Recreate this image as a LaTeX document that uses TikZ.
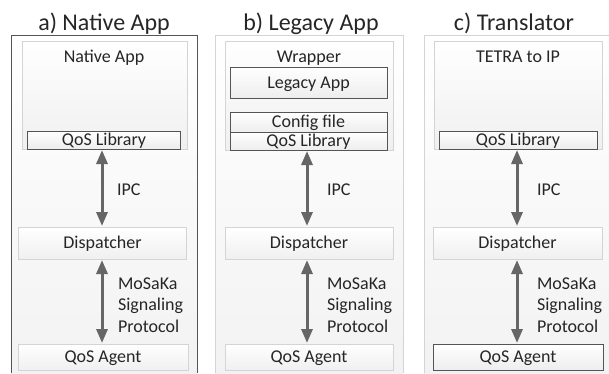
\documentclass[tikz,border=0pt]{standalone}
\usepackage{fontspec}
\setmainfont{Carlito}
\usetikzlibrary{arrows.meta}
\definecolor{txt}{HTML}{262626}
\definecolor{edgelight}{HTML}{D4D4D4}
\definecolor{edgedark}{HTML}{555555}
\definecolor{arrowc}{HTML}{666666}
\tikzset{
  x=1pt,y=-1pt,
  every node/.style={text=txt,font=\fontsize{18}{21}\selectfont,inner sep=0pt,outer sep=0pt},
  softbox/.style={rectangle,draw=edgelight,line width=0.8pt,top color=white,bottom color=black!6,anchor=center,text height=13pt,text depth=2pt},
  hardbox/.style={rectangle,draw=edgedark,line width=0.9pt,top color=white,bottom color=black!7,anchor=center,text height=13pt,text depth=2pt},
  sized/.style 2 args={minimum width=#1pt,minimum height=#2pt},
  paneltitle/.style={font=\fontsize{24}{28}\selectfont,anchor=base},
  boxlabel/.style={text height=13pt,text depth=2pt},
  caption/.style={anchor=west,align=left,font=\fontsize{18}{21.5}\selectfont},
  link/.style={line width=3pt,draw=arrowc,{Triangle[length=14pt,width=11pt]}-{Triangle[length=14pt,width=11pt]},shorten >=1pt,shorten <=1pt},
  panelbg/.style={rectangle,top color=white,bottom color=black!5,anchor=center},
}
\begin{document}
\begin{tikzpicture}
\useasboundingbox (0,0) rectangle (609,373);
% panel a
\node[panelbg,sized={186}{338}] (pa) at (104,204) {};
\draw[edgedark,line width=0.9pt] (pa.south west) -- (pa.north west) -- (pa.north east) -- (pa.south east);
\node[paneltitle] (ta) at (104,30) {a) Native App};
\node[softbox,sized={165}{108}] (appa) at (104.5,95) {};
\node[boxlabel] (appalbl) at (104,57) {Native App};
\node[hardbox,sized={153}{18}] (liba) at (104,140) {QoS Library};
\node[softbox,sized={168}{32}] (dispa) at (102.5,243) {Dispatcher};
\node[softbox,sized={170}{26}] (agenta) at (103,357) {QoS Agent};
\draw[link] (liba.south -| 102,0) -- (dispa.north -| 102,0);
\draw[link] (dispa.south -| 102,0) -- (agenta.north -| 102,0);
\node[caption] (ipca) at (117,190) {IPC};
\node[caption] (sa) at (118,305) {MoSaKa\\Signaling\\Protocol};
% panel b
\node[panelbg,sized={188}{338}] (pb) at (309,204) {};
\draw[edgelight,line width=0.8pt] (pb.south west) -- (pb.north west) -- (pb.north east) -- (pb.south east);
\node[paneltitle] (tb) at (311,30) {b) Legacy App};
\node[softbox,sized={168}{109}] (appb) at (309,95.5) {};
\node[boxlabel] (appblbl) at (309,57) {Wrapper};
\node[hardbox,sized={157}{31}] (legacy) at (308.5,82.5) {Legacy App};
\node[hardbox,sized={157}{20}] (config) at (308.5,122) {Config file};
\node[hardbox,sized={157}{18}] (libb) at (308.5,141) {QoS Library};
\node[softbox,sized={168}{32}] (dispb) at (309,243) {Dispatcher};
\node[softbox,sized={168}{26}] (agentb) at (309,357) {QoS Agent};
\draw[link] (libb.south -| 307,0) -- (dispb.north -| 307,0);
\draw[link] (dispb.south -| 307,0) -- (agentb.north -| 307,0);
\node[caption] (ipcb) at (327,190) {IPC};
\node[caption] (sb) at (327,305) {MoSaKa\\Signaling\\Protocol};
% panel c
\node[panelbg,sized={185}{338}] (pc) at (516.5,204) {};
\draw[edgelight,line width=0.8pt] (pc.south west) -- (pc.north west) -- (pc.north east);
\node[paneltitle] (tc) at (514,30) {c) Translator};
\node[softbox,sized={168}{108}] (appc) at (518,95) {};
\node[boxlabel] (appclbl) at (518,57) {TETRA to IP};
\node[hardbox,sized={158}{18}] (libc) at (518,140) {QoS Library};
\node[softbox,sized={169}{32}] (dispc) at (517.5,243) {Dispatcher};
\node[hardbox,sized={170}{26}] (agentc) at (518,357) {QoS Agent};
\draw[link] (libc.south -| 517,0) -- (dispc.north -| 517,0);
\draw[link] (dispc.south -| 517,0) -- (agentc.north -| 517,0);
\node[caption] (ipcc) at (537,190) {IPC};
\node[caption] (sc) at (537,305) {MoSaKa\\Signaling\\Protocol};
\end{tikzpicture}
\end{document}
